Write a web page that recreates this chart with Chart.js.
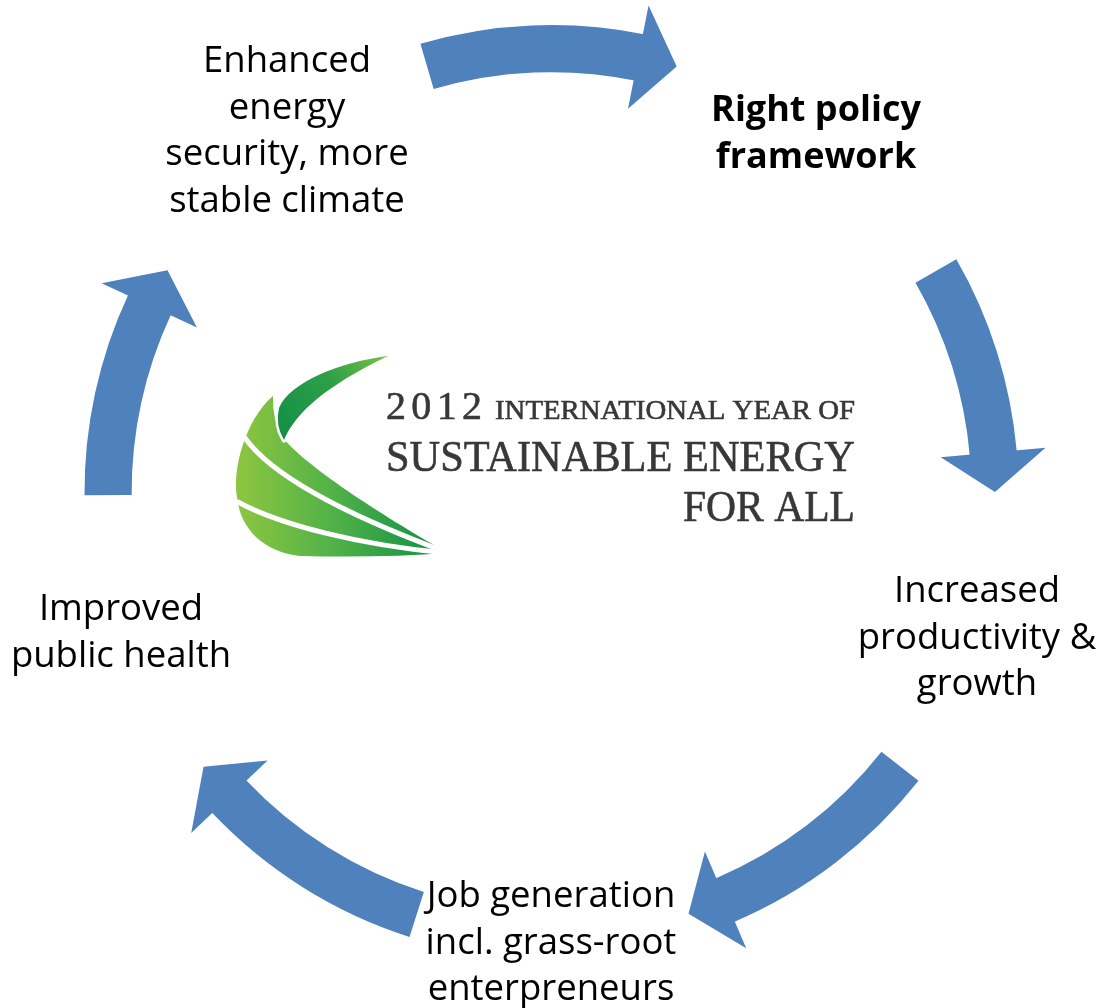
<!DOCTYPE html>
<html><head><meta charset="utf-8">
<script src="https://cdn.jsdelivr.net/npm/chart.js@4.4.1/dist/chart.umd.min.js"></script>
<style>html,body{margin:0;padding:0;background:#fff;}canvas{display:block;}</style>
</head><body>
<canvas id="c" width="1103" height="1008"></canvas>
<script>
// Cycle stages (in the order the arrows point to them, starting with the top arrow)
const stages = [
  ["Right policy", "framework"],
  ["Increased", "productivity &", "growth"],
  ["Job generation", "incl. grass-root", "enterpreneurs"],
  ["Improved", "public health"],
  ["Enhanced", "energy", "security, more", "stable climate"]
];
// Sweep of each arrow shaft and of each gap after it, in degrees
const arrowSweep = [27.7, 24.9, 28.8, 29.0, 25.4];
const gapSweep   = [48.7, 43.2, 40.7, 42.9, 48.7];
const startRotation = -16.3;   // degrees from 12 o'clock
const headSweep = 5;           // degrees the arrow head extends past the shaft

const logoLines = ["2012", "INTERNATIONAL YEAR OF", "SUSTAINABLE ENERGY", "FOR ALL"];

const segData = [], segColors = [], segLabels = [];
arrowSweep.forEach((s, i) => {
  segData.push(s); segColors.push('#4F81BD'); segLabels.push('arrow ' + (i + 1));
  segData.push(gapSweep[i]); segColors.push('rgba(0,0,0,0)'); segLabels.push('gap ' + (i + 1));
});

// label layout: centre x / first baseline relative to ring centre
const labelLayout = [
  {dx: 264.5, dy: -371, bold: true},
  {dx: 425.5, dy: 110},
  {dx: -0.5, dy: 415},
  {dx: -430.5, dy: 128},
  {dx: -264.5, dy: -420}
];
const lineH = 46.5;

function drawFit(ctx, text, font, x, y, width, align) {
  ctx.save();
  ctx.font = font;
  const w = ctx.measureText(text).width;
  const s = width / w;
  ctx.textAlign = 'left';
  ctx.textBaseline = 'alphabetic';
  const x0 = align === 'right' ? x - width : x;
  ctx.translate(x0, y);
  ctx.scale(s, 1);
  ctx.fillText(text, 0, 0);
  ctx.strokeText(text, 0, 0);
  ctx.restore();
}

function drawSpaced(ctx, text, font, x, y, width) {
  ctx.save();
  ctx.font = font;
  ctx.textAlign = 'left';
  ctx.textBaseline = 'alphabetic';
  const chars = text.split('');
  const ws = chars.map(c => ctx.measureText(c).width);
  const total = ws.reduce((a, b) => a + b, 0);
  const gap = (width - total) / (chars.length - 1);
  let cx = x;
  chars.forEach((c, i) => {
    ctx.fillText(c, cx, y);
    ctx.strokeText(c, cx, y);
    cx += ws[i] + gap;
  });
  ctx.restore();
}

function drawLogo(ctx) {
  ctx.save();
  // big crescent
  const g = ctx.createLinearGradient(237, 0, 447, 0);
  g.addColorStop(0, '#8dc63f');
  g.addColorStop(0.45, '#52b248');
  g.addColorStop(1, '#0b8e46');
  ctx.beginPath();
  ctx.moveTo(448, 553);
  ctx.bezierCurveTo(390, 520, 310, 470, 283, 438);
  ctx.quadraticCurveTo(272, 420, 273, 396);
  ctx.bezierCurveTo(245, 420, 232, 470, 237, 497);
  ctx.bezierCurveTo(240, 530, 265, 552, 300, 556);
  ctx.quadraticCurveTo(380, 558, 448, 553);
  ctx.closePath();
  ctx.fillStyle = g;
  ctx.fill();
  // white stripes
  ctx.strokeStyle = '#ffffff';
  ctx.lineCap = 'round';
  ctx.lineWidth = 5;
  ctx.beginPath();
  ctx.moveTo(245, 438);
  ctx.bezierCurveTo(275, 480, 360, 520, 446, 552);
  ctx.stroke();
  ctx.beginPath();
  ctx.moveTo(238, 502);
  ctx.bezierCurveTo(280, 525, 360, 545, 446, 553);
  ctx.stroke();
  // top swoosh
  const g2 = ctx.createLinearGradient(280, 440, 390, 356);
  g2.addColorStop(0, '#118f45');
  g2.addColorStop(0.55, '#2e9f47');
  g2.addColorStop(1, '#7cc242');
  ctx.beginPath();
  ctx.moveTo(388, 356);
  ctx.bezierCurveTo(340, 362, 290, 382, 279, 408);
  ctx.quadraticCurveTo(275, 425, 284, 440);
  ctx.bezierCurveTo(296, 412, 326, 386, 388, 356);
  ctx.closePath();
  ctx.lineWidth = 5;
  ctx.lineJoin = 'round';
  ctx.stroke();
  ctx.fillStyle = g2;
  ctx.fill();

  // logo text
  ctx.fillStyle = '#383838';
  ctx.strokeStyle = '#383838';
  ctx.lineWidth = 0.6;
  drawSpaced(ctx, logoLines[0], '40px "Liberation Serif"', 386, 419, 96);
  drawFit(ctx, logoLines[1], '27px "Liberation Serif"', 855, 419, 360, 'right');
  drawFit(ctx, logoLines[2], '45px "Liberation Serif"', 855, 471, 469, 'right');
  drawFit(ctx, logoLines[3], '45px "Liberation Serif"', 855, 521, 172, 'right');
  ctx.restore();
}

const cyclePlugin = {
  id: 'cycle',
  afterDatasetsDraw(chart) {
    const ctx = chart.ctx;
    const meta = chart.getDatasetMeta(0);
    ctx.save();
    ctx.fillStyle = '#4F81BD';
    meta.data.forEach((arc, i) => {
      if (i % 2) return;
      const p = arc.getProps(['x', 'y', 'startAngle', 'endAngle', 'innerRadius', 'outerRadius']);
      const mid = (p.innerRadius + p.outerRadius) / 2;
      const half = (p.outerRadius - p.innerRadius) / 2 + 29;
      const e = p.endAngle - 0.002;
      const t = p.endAngle + headSweep * Math.PI / 180;
      ctx.beginPath();
      ctx.moveTo(p.x + (mid + half) * Math.cos(e), p.y + (mid + half) * Math.sin(e));
      ctx.lineTo(p.x + mid * Math.cos(t), p.y + mid * Math.sin(t));
      ctx.lineTo(p.x + (mid - half) * Math.cos(e), p.y + (mid - half) * Math.sin(e));
      ctx.closePath();
      ctx.fill();
    });
    ctx.restore();
  },
  afterDraw(chart) {
    const ctx = chart.ctx;
    const arc0 = chart.getDatasetMeta(0).data[0];
    const cx = arc0.x, cy = arc0.y;
    ctx.save();
    ctx.fillStyle = '#000000';
    ctx.textAlign = 'center';
    ctx.textBaseline = 'alphabetic';
    stages.forEach((lines, i) => {
      const L = labelLayout[i];
      ctx.font = L.bold ? 'bold 36px "Open Sans"' : '36.5px "Open Sans"';
      lines.forEach((ln, k) => {
        ctx.fillText(ln, cx + L.dx, cy + L.dy + k * lineH);
      });
    });
    ctx.restore();
    drawLogo(ctx);
  }
};

new Chart(document.getElementById('c'), {
  type: 'doughnut',
  data: {
    labels: segLabels,
    datasets: [{
      data: segData,
      backgroundColor: segColors,
      borderWidth: 0,
      hoverBorderWidth: 0,
      offset: 0,
      hoverOffset: 0,
      spacing: 0
    }]
  },
  options: {
    responsive: false,
    animation: false,
    events: [],
    rotation: startRotation,
    cutout: '89.9%',
    layout: {padding: {top: 25, bottom: 49, left: 0, right: 0}},
    plugins: {legend: {display: false}, tooltip: {enabled: false}, title: {display: false}}
  },
  plugins: [cyclePlugin]
});
</script>
</body></html>
